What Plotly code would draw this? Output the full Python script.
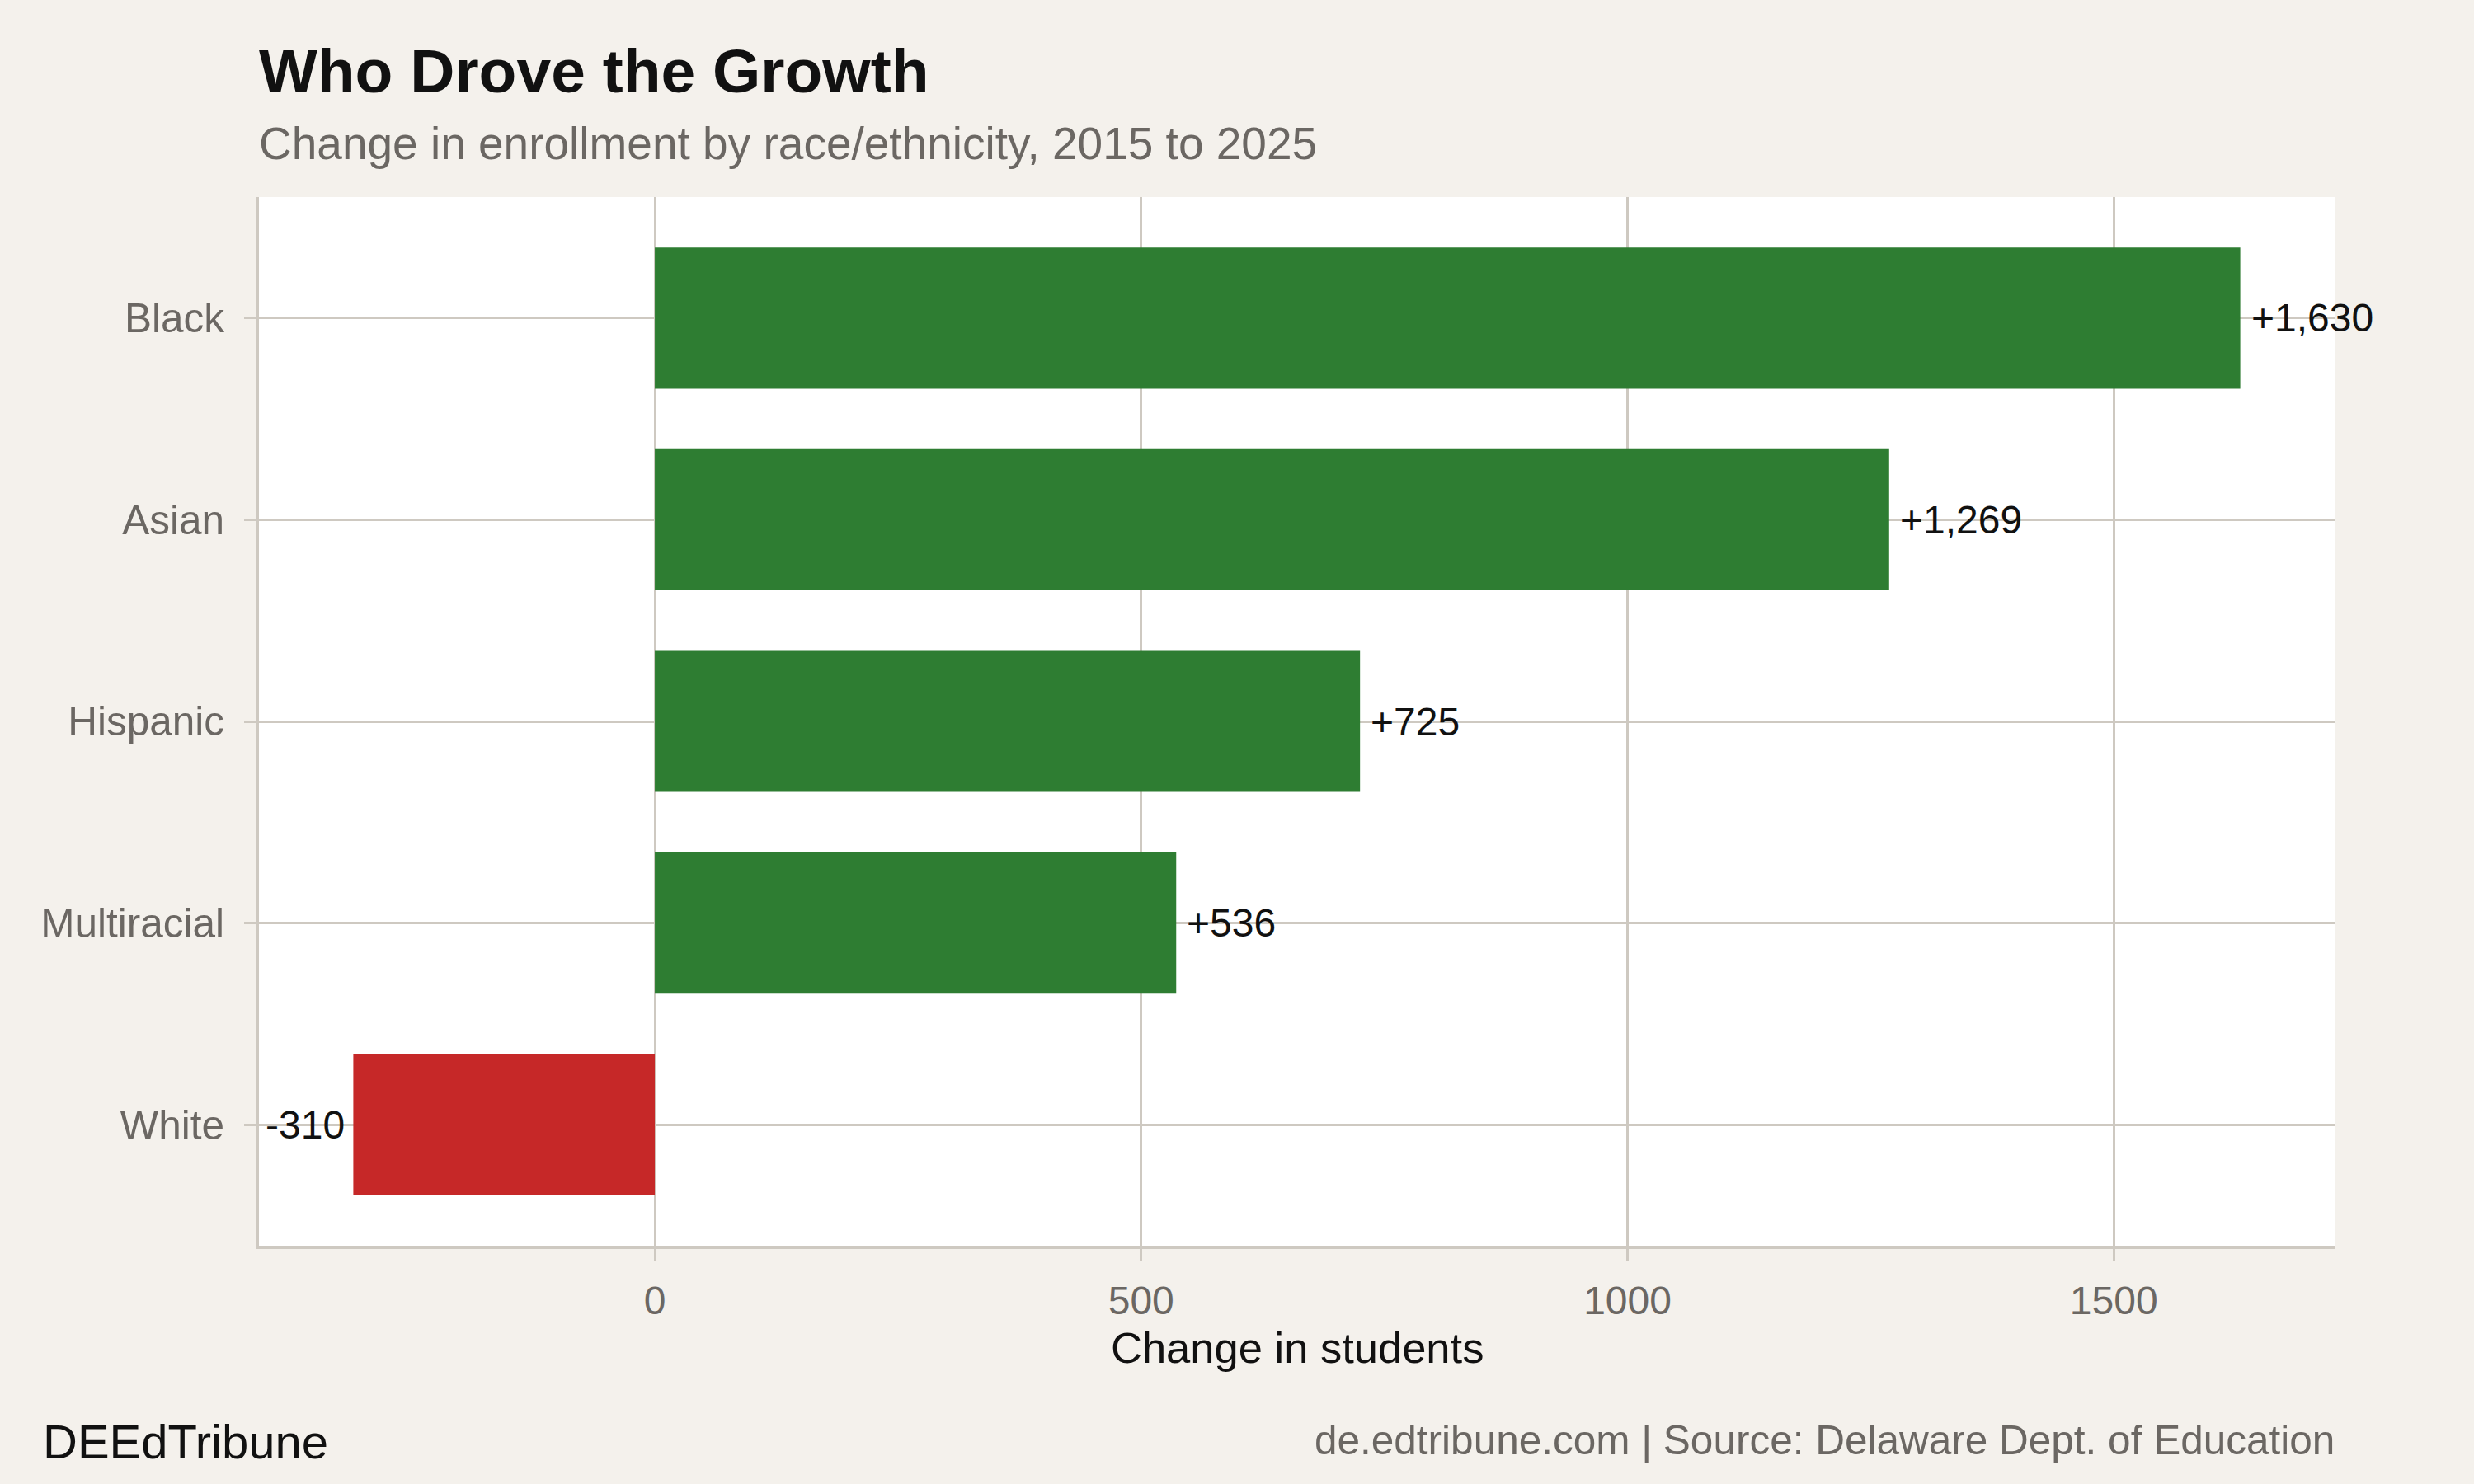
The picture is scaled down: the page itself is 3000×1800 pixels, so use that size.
import plotly.graph_objects as go

categories = ["Black", "Asian", "Hispanic", "Multiracial", "White"]
changes = [1630, 1269, 725, 536, -310]
labels = ["+1,630", "+1,269", "+725", "+536", "-310"]
x_ticks = [0, 500, 1000, 1500]

GREEN = "#2E7D32"
RED = "#C62828"
BG = "#F4F1EC"
GRID = "#CEC9C1"
GRAYTXT = "#6B6763"
FONT = "Liberation Sans"

colors = [GREEN if v >= 0 else RED for v in changes]

fig = go.Figure()
fig.add_trace(go.Bar(
    x=changes, y=categories, orientation="h",
    marker=dict(color=colors, line=dict(width=0)),
    width=0.7, hoverinfo="skip",
))

for c, v, lab in zip(categories, changes, labels):
    fig.add_annotation(
        x=v, y=c, xref="x", yref="y", text=lab, showarrow=False,
        xanchor="left" if v >= 0 else "right",
        xshift=11 if v >= 0 else -8,
        font=dict(family=FONT, size=48, color="#111111"),
    )

W, H = 3000, 1800
ml, mr, mt, mb = 314, 169, 239, 289
ph = H - mt - mb
pw = W - ml - mr

def py(ypx):
    return (H - mb - ypx) / ph

def px(xpx):
    return (xpx - ml) / pw

fig.add_annotation(x=px(312), y=py(86), xref="paper", yref="paper",
                   text="<b>Who Drove the Growth</b>", showarrow=False,
                   xanchor="left", yanchor="middle",
                   font=dict(family=FONT, size=75, color="#111111"))
fig.add_annotation(x=px(312), y=py(174), xref="paper", yref="paper",
                   text="Change in enrollment by race/ethnicity, 2015 to 2025", showarrow=False,
                   xanchor="left", yanchor="middle",
                   font=dict(family=FONT, size=55, color=GRAYTXT))
fig.add_annotation(x=px(50), y=py(1748), xref="paper", yref="paper",
                   text="DEEdTribune", showarrow=False,
                   xanchor="left", yanchor="middle",
                   font=dict(family=FONT, size=58, color="#111111"))
fig.add_annotation(x=px(2833), y=py(1746), xref="paper", yref="paper",
                   text="de.edtribune.com | Source: Delaware Dept. of Education", showarrow=False,
                   xanchor="right", yanchor="middle",
                   font=dict(family=FONT, size=49.5, color=GRAYTXT))
fig.add_annotation(x=0.5, y=py(1634), xref="paper", yref="paper",
                   text="Change in students", showarrow=False,
                   xanchor="center", yanchor="middle",
                   font=dict(family=FONT, size=52.5, color="#111111"))

fig.update_layout(
    width=W, height=H,
    margin=dict(l=ml, r=mr, t=mt, b=mb, autoexpand=False),
    paper_bgcolor=BG, plot_bgcolor="white",
    showlegend=False, bargap=0.3,
    font=dict(family=FONT),
)
fig.update_xaxes(
    range=[-407, 1727], tickvals=x_ticks, ticktext=[str(t) for t in x_ticks],
    showgrid=True, gridcolor=GRID, gridwidth=2.5,
    showline=True, linecolor=GRID, linewidth=4,
    ticks="outside", ticklen=15, tickwidth=2.5, tickcolor=GRID,
    tickfont=dict(family=FONT, size=48, color=GRAYTXT),
    zeroline=False, ticklabelstandoff=6,
)
fig.update_yaxes(
    categoryorder="array", categoryarray=categories[::-1],
    range=[-0.6, 4.6],
    showgrid=True, gridcolor=GRID, gridwidth=2.5,
    showline=True, linecolor=GRID, linewidth=3,
    ticks="outside", ticklen=15, tickwidth=2.5, tickcolor=GRID,
    tickfont=dict(family=FONT, size=49.5, color=GRAYTXT),
    zeroline=False, ticklabelstandoff=14,
)

fig.write_html("out.html", config={"displayModeBar": False},
               post_script="document.body.style.margin='0';document.body.style.background='" + BG + "';")
